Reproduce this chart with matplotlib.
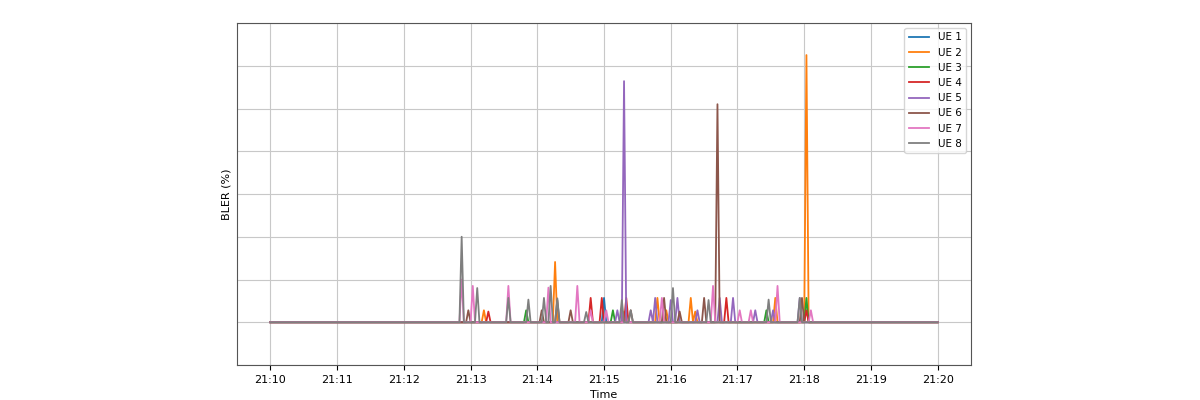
import numpy as np
import pandas as pd
import matplotlib
matplotlib.use("Agg")
import matplotlib.pyplot as plt
import matplotlib.dates as mdates
from matplotlib.ticker import MultipleLocator

# Config
START = "2024-01-01 21:10:00"
END = "2024-01-01 21:20:00"
STEP_S = 2

# BLER spikes per UE: seconds after 21:10 and peak value
ue1_t = [300]
ue1_v = [0.57]

ue2_t = [192, 256, 318, 348, 356, 378, 382, 454, 482]
ue2_v = [0.28, 1.41, 0.25, 0.57, 0.28, 0.57, 0.25, 0.57, 6.25]

ue3_t = [230, 308, 446, 482]
ue3_v = [0.28, 0.28, 0.28, 0.57]

ue4_t = [196, 288, 298, 320, 410, 482]
ue4_v = [0.25, 0.57, 0.57, 0.57, 0.57, 0.28]

ue5_t = [312, 318, 342, 346, 360, 366, 384, 404, 416, 436, 452, 476]
ue5_v = [0.28, 5.64, 0.28, 0.57, 0.52, 0.57, 0.28, 0.57, 0.57, 0.28, 0.28, 0.57]

ue6_t = [178, 244, 258, 270, 324, 354, 368, 390, 402, 478]
ue6_v = [0.28, 0.28, 0.52, 0.28, 0.28, 0.57, 0.25, 0.57, 5.1, 0.57]

ue7_t = [172, 182, 214, 250, 276, 288, 302, 352, 398, 422, 432, 456, 486]
ue7_v = [1.0, 0.85, 0.85, 0.81, 0.85, 0.28, 0.28, 0.57, 0.85, 0.28, 0.28, 0.85, 0.28]

ue8_t = [172, 186, 214, 232, 246, 252, 258, 284, 316, 324, 362, 394, 448, 476]
ue8_v = [2.0, 0.8, 0.57, 0.53, 0.57, 0.85, 0.56, 0.24, 0.52, 0.28, 0.8, 0.52, 0.53, 0.57]

ue_spikes = [(ue1_t, ue1_v), (ue2_t, ue2_v), (ue3_t, ue3_v), (ue4_t, ue4_v),
             (ue5_t, ue5_v), (ue6_t, ue6_v), (ue7_t, ue7_v), (ue8_t, ue8_v)]


def build_series(times, values, index):
    s = pd.Series(0.0, index=index)
    for t, v in zip(times, values):
        s.iloc[t // STEP_S] = v
    return s


index = pd.date_range(START, END, freq=f"{STEP_S}s")

fig = plt.figure(figsize=(12, 4), dpi=100)
ax = fig.add_axes([0.1975, 0.0875, 0.6117, 0.855])

for i, (t, v) in enumerate(ue_spikes):
    s = build_series(t, v, index)
    ax.plot(s.index, s.values, label=f"UE {i + 1}", linewidth=1.3)

ax.set_xlabel("Time", fontsize=8)
ax.set_ylabel("BLER (%)", fontsize=8)
ax.set_ylim(-1, 7)
ax.yaxis.set_major_locator(MultipleLocator(1))
ax.tick_params(axis='y', left=False, labelleft=False)
ax.tick_params(axis='x', labelsize=8)
ax.xaxis.set_major_locator(mdates.MinuteLocator())
ax.xaxis.set_major_formatter(mdates.DateFormatter("%H:%M"))
ax.set_xlim(pd.Timestamp("2024-01-01 21:09:30"), pd.Timestamp("2024-01-01 21:20:30"))
ax.grid(True, color="#c8c8c8")
for sp in ax.spines.values():
    sp.set_color("#555555")
ax.legend(loc="upper right", fontsize=7.5)

fig.savefig("out.png", dpi=100)
